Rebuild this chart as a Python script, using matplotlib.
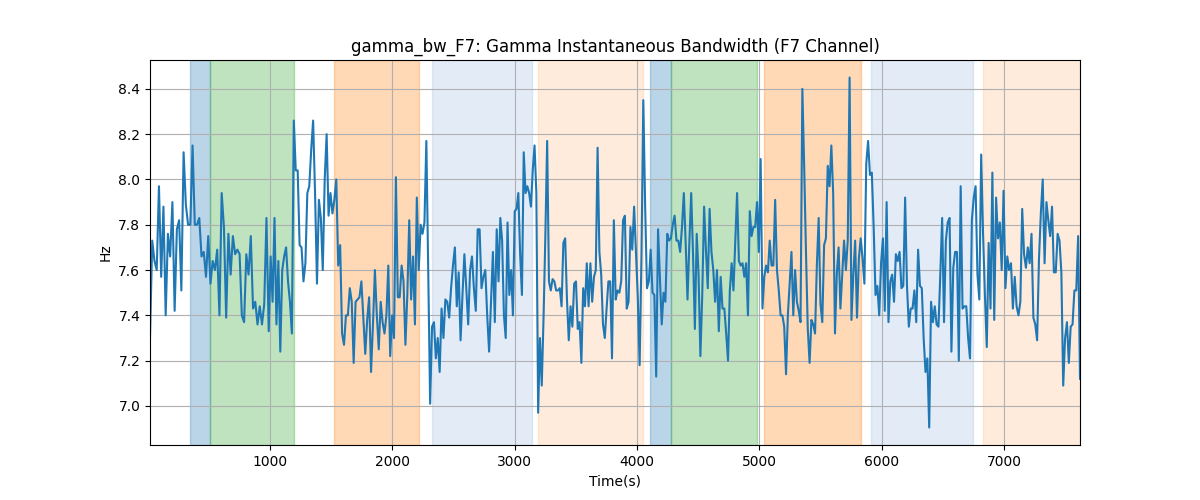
import numpy as np
import matplotlib
matplotlib.use("Agg")
import matplotlib.pyplot as plt

# gamma bandwidth readings, one list per stretch of the recording
seg1 = [7.30, 7.73, 7.64, 7.60, 7.97, 7.57, 7.88, 7.40, 7.76, 7.66, 7.90, 7.42, 7.78, 7.82, 7.51, 8.12,
        7.89, 7.80, 7.80, 8.15, 7.80, 7.80, 7.83, 7.66, 7.68, 7.57, 7.75, 7.54, 7.64, 7.60, 7.69, 7.40,
        7.94, 7.79, 7.39, 7.76, 7.58, 7.75, 7.67, 7.69, 7.67, 7.40, 7.37, 7.67, 7.58, 7.75, 7.43, 7.46,
        7.36, 7.44, 7.36, 7.45, 7.83]
seg2 = [7.33, 7.66, 7.46, 7.83, 7.36, 7.64, 7.24, 7.60, 7.66, 7.70, 7.55, 7.46, 7.32, 8.26, 8.04, 8.04,
        7.71, 7.70, 7.55, 7.63, 7.94, 7.97, 8.13, 8.26, 7.94, 7.54, 7.91, 7.83, 7.60, 8.00, 8.20, 7.84,
        7.94, 7.85, 7.91, 8.00, 7.62, 7.71, 7.32, 7.27, 7.40, 7.40, 7.52, 7.46, 7.19, 7.46, 7.47, 7.48,
        7.55, 7.39, 7.23, 7.38, 7.48, 7.15, 7.36, 7.60, 7.40, 7.25]
seg3 = [7.46, 7.37, 7.32, 7.40, 7.62, 7.22, 7.40, 7.30, 8.01, 7.48, 7.48, 7.62, 7.55, 7.27, 7.49, 7.82,
        7.47, 7.66, 7.36, 7.92, 7.60, 7.80, 7.76, 7.81, 8.17, 7.60, 7.01, 7.35, 7.37, 7.21, 7.30, 7.15,
        7.43, 7.30, 7.47, 7.46, 7.39, 7.52, 7.62, 7.70, 7.44, 7.59, 7.29, 7.49, 7.67, 7.52, 7.36, 7.60,
        7.66, 7.52, 7.42, 7.78, 7.78, 7.52, 7.57, 7.60, 7.40, 7.24, 7.46, 7.68, 7.37]
seg4 = [7.78, 7.55, 7.83, 7.73, 7.40, 7.30, 7.81, 7.49, 7.60, 7.40, 7.86, 7.87, 7.94, 7.67, 7.49, 8.12,
        7.94, 7.97, 7.94, 7.88, 8.04, 8.15, 7.94, 6.97, 7.30, 7.09, 7.39, 7.75, 8.17, 7.55, 7.51, 7.56,
        7.55, 7.51, 7.51, 7.52, 7.44, 7.72, 7.74, 7.47, 7.29, 7.44, 7.35, 7.54, 7.55, 7.34, 7.37, 7.19,
        7.52, 7.44, 7.63, 7.44, 7.63, 7.46, 7.57, 7.60, 8.14, 7.68, 7.58, 7.36, 7.30, 7.43, 7.55, 7.55]
seg5 = [7.21, 7.82, 7.47, 7.51, 7.50, 7.55, 7.82, 7.84, 7.43, 7.46, 7.79, 7.69, 7.88, 7.68, 7.48, 7.18,
        7.66, 8.35, 7.88, 7.52, 7.55, 7.69, 7.50, 7.49, 7.13, 7.78, 7.57, 7.36, 7.50, 7.46, 7.76, 7.73,
        7.74, 7.80, 7.84, 7.73, 7.73, 7.68, 7.79, 7.94, 7.72, 7.47, 7.72, 7.94, 7.67, 7.34, 7.76, 7.58,
        7.22, 7.49, 7.88, 7.69, 7.52, 7.87, 7.68, 7.60, 7.46, 7.60, 7.33, 7.57, 7.43, 7.43, 7.32]
seg6 = [7.20, 7.51, 7.63, 7.51, 7.72, 7.94, 7.64, 7.62, 7.63, 7.57, 7.63, 7.40, 7.86, 7.75, 7.79, 7.79,
        7.90, 7.68, 8.09, 7.43, 7.57, 7.62, 7.59, 7.73, 7.62, 7.62, 7.91, 7.60, 7.51, 7.40, 7.40, 7.35,
        7.14, 7.40, 7.54, 7.68, 7.40, 7.60, 7.46, 7.42, 7.37, 8.40, 8.06, 7.68, 7.34, 7.19, 7.38, 7.36,
        7.32, 7.62, 7.83, 7.45, 7.37, 7.71, 7.74, 8.06, 7.97, 8.15, 7.94, 7.32, 7.58, 7.70, 7.43, 7.58]
seg7 = [7.73, 7.60, 7.73, 8.45, 7.38, 7.58, 7.73, 7.39, 7.65, 7.74, 7.65, 7.54, 8.07, 8.17, 8.02, 8.03,
        7.79, 7.49, 7.53, 7.40, 7.63, 7.74, 7.42, 7.90, 7.37, 7.55, 7.58, 7.46, 7.67, 7.64, 7.68, 7.52,
        7.53, 7.92, 7.53, 7.35, 7.43, 7.43, 7.51, 7.37, 7.69, 7.53, 7.52, 7.30, 7.15, 7.21, 6.905, 7.46,
        7.37, 7.44, 7.36, 7.35, 7.58, 7.83, 7.37, 7.73, 7.81, 7.83, 7.24, 7.61, 7.68, 7.68, 7.20]
seg8 = [7.97, 7.43, 7.44, 7.44, 7.30, 7.21, 7.82, 7.92, 7.97, 7.58, 7.47, 8.11, 7.76, 7.49, 7.26, 7.72,
        7.43, 8.03, 7.38, 7.92, 7.74, 7.81, 7.60, 7.95, 7.52, 7.66, 7.60, 7.63, 7.43, 7.57, 7.44, 7.40,
        7.46, 7.87, 7.67, 7.61, 7.70, 7.63, 7.76, 7.39, 7.36, 7.29, 7.65, 7.85, 8.00, 7.63, 7.90, 7.82,
        7.75, 7.88, 7.59, 7.59, 7.76, 7.73, 7.59, 7.09, 7.30, 7.37, 7.19, 7.35, 7.36, 7.51, 7.51, 7.75,
        7.12]
segments = [seg1, seg2, seg3, seg4, seg5, seg6, seg7, seg8]
# time (s) at which each stretch begins, last entry = end of recording
seg_bounds = [20, 990, 1905, 2853, 3795, 4743, 5691, 6644, 7619]

# labelled intervals: (start, end, colour, alpha)
spans = [
    (346, 507, "C0", 0.3),
    (507, 1196, "C2", 0.3),
    (1523, 2218, "C1", 0.3),
    (2324, 3139, "#aec7e8", 0.35),
    (3190, 4046, "C1", 0.15),
    (4105, 4274, "C0", 0.3),
    (4274, 4977, "C2", 0.3),
    (5034, 5827, "C1", 0.3),
    (5909, 6742, "#aec7e8", 0.35),
    (6824, 7619, "C1", 0.15),
]

t = []
for i, seg in enumerate(segments):
    last = i == len(segments) - 1
    t.append(np.linspace(seg_bounds[i], seg_bounds[i + 1], len(seg), endpoint=last))
t = np.concatenate(t)
y = np.concatenate(segments)

fig, ax = plt.subplots(figsize=(12, 5), dpi=100)
for s, e, c, a in spans:
    ax.axvspan(s, e, color=c, alpha=a)
ax.plot(t, y, color="C0", linewidth=1.5)
ax.set_xlim(t[0], t[-1])
ax.set_title("gamma_bw_F7: Gamma Instantaneous Bandwidth (F7 Channel)")
ax.set_xlabel("Time(s)")
ax.set_ylabel("Hz")
ax.grid(True)
fig.savefig("out.png")
